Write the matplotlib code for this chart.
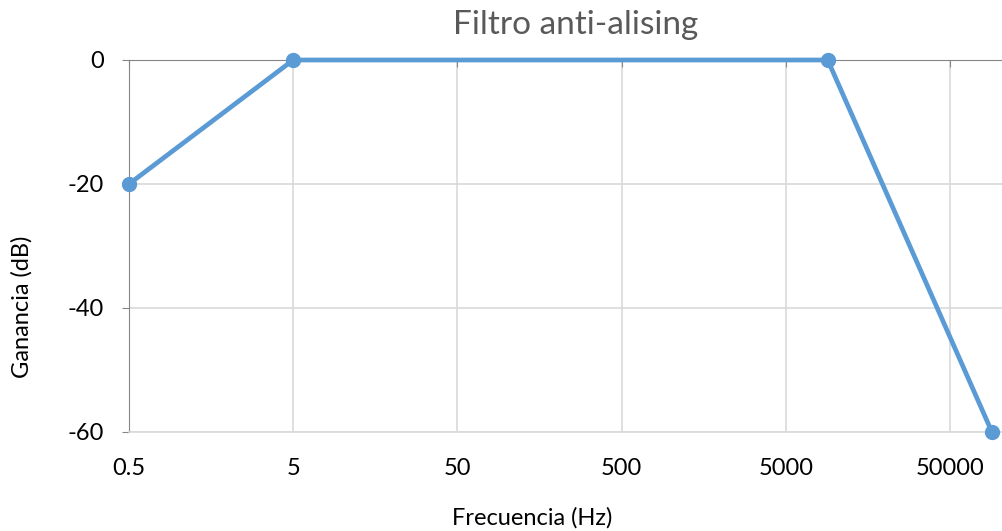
import matplotlib.pyplot as plt
import numpy as np
from matplotlib.ticker import FixedLocator, NullLocator

plt.rcParams['font.family'] = ['Lato', 'DejaVu Sans']
plt.rcParams['axes.unicode_minus'] = False

freq = [0.5, 5, 9000, 90000]
gain = [-20, 0, 0, -60]
xticks = [0.5, 5, 50, 500, 5000, 50000]
xlabels = ["0.5", "5", "50", "500", "5000", "50000"]
yticks = [0, -20, -40, -60]

fig = plt.figure(figsize=(10.02, 5.31), dpi=100)
ax = fig.add_axes([129 / 1002, 1 - 432 / 531, 1 - 129 / 1002, (432 - 60) / 531])

ax.plot(freq, gain, color="#5B9BD5", lw=3.4, marker="o", ms=10, clip_on=False, zorder=5)

ax.set_xscale("log")
ax.set_xlim(0.5, 50000 * 10 ** ((1002 - 950) / 164.2))
ax.set_ylim(-60, 0)

ax.xaxis.set_major_locator(FixedLocator(xticks))
ax.xaxis.set_minor_locator(NullLocator())
ax.set_xticklabels(xlabels)
ax.yaxis.set_major_locator(FixedLocator(yticks))

ax.grid(True, color="#D9D9D9", lw=1.2)
ax.set_axisbelow(True)

# x axis line sits at 0 (top), labels at the bottom
ax.xaxis.set_ticks_position("top")
ax.tick_params(axis="x", which="major", direction="in", length=5, color="#868686",
               labeltop=False, labelbottom=True, labelsize=17, pad=19)
ax.tick_params(axis="y", direction="out", length=5, color="#868686", labelsize=17, pad=13)

ax.spines["right"].set_visible(False)
ax.spines["bottom"].set_color("#D9D9D9")
ax.spines["bottom"].set_linewidth(1.2)
ax.spines["top"].set_color("#868686")
ax.spines["left"].set_color("#868686")

fig.text(576 / 1002, 1 - 25 / 531, "Filtro anti-alising", ha="center", va="center",
         fontsize=24, color="#595959")
fig.text(532 / 1002, 1 - 518 / 531, "Frecuencia (Hz)", ha="center", va="center", fontsize=17)
fig.text(22 / 1002, 1 - 307 / 531, "Ganancia (dB)", ha="center", va="center",
         rotation=90, fontsize=17)

fig.savefig("out.png", dpi=100)
